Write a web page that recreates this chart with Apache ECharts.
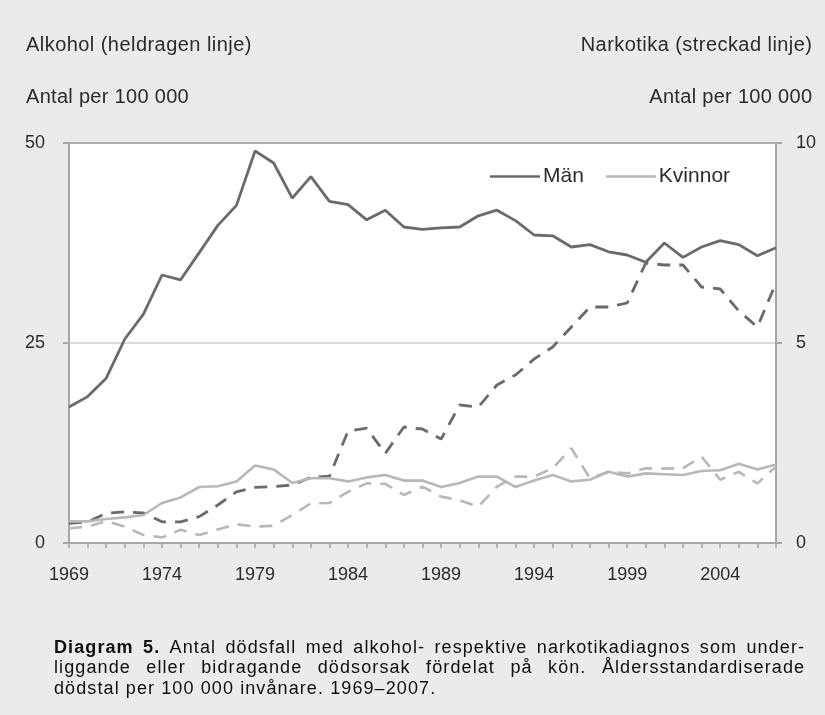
<!DOCTYPE html>
<html><head><meta charset="utf-8">
<script src="https://cdn.jsdelivr.net/npm/echarts@6/dist/echarts.min.js"></script>
<style>html,body{margin:0;padding:0;background:#ebebeb}#c{width:825px;height:715px}</style>
</head><body><div id="c"></div>
<script>
const years = ['1969','1970','1971','1972','1973','1974','1975','1976','1977','1978',
  '1979','1980','1981','1982','1983','1984','1985','1986','1987','1988',
  '1989','1990','1991','1992','1993','1994','1995','1996','1997','1998',
  '1999','2000','2001','2002','2003','2004','2005','2006','2007'];
const tickLabels = ['1969','1974','1979','1984','1989','1994','1999','2004'];
// Alkohol (left axis), per 100 000
const menAlcohol = [17.0,18.3,20.6,25.5,28.6,33.5,32.9,36.3,39.7,42.2,
  49.0,47.5,43.1,45.8,42.7,42.3,40.4,41.6,39.5,39.2,
  39.4,39.5,40.9,41.6,40.3,38.5,38.4,37.0,37.3,36.4,
  36.0,35.1,37.5,35.7,37.0,37.8,37.3,35.9,36.9];
const womenAlcohol = [2.7,2.7,3.0,3.2,3.5,5.0,5.7,7.0,7.1,7.7,
  9.7,9.2,7.5,8.1,8.1,7.7,8.2,8.5,7.8,7.8,
  7.0,7.5,8.3,8.3,7.0,7.8,8.5,7.7,7.9,8.9,
  8.3,8.7,8.6,8.5,9.0,9.1,9.9,9.2,9.8];
// Narkotika (right axis), per 100 000
const menNarcotics = [0.49,0.53,0.74,0.78,0.75,0.53,0.53,0.66,0.95,1.28,
  1.39,1.41,1.45,1.64,1.67,2.8,2.87,2.24,2.9,2.85,
  2.6,3.45,3.4,3.95,4.2,4.6,4.9,5.4,5.9,5.9,
  6.0,7.0,6.95,6.95,6.4,6.35,5.8,5.4,6.5];
const womenNarcotics = [0.37,0.41,0.55,0.41,0.2,0.14,0.33,0.2,0.34,0.47,
  0.41,0.43,0.7,0.99,1.0,1.28,1.49,1.48,1.2,1.41,
  1.16,1.07,0.91,1.41,1.66,1.66,1.87,2.37,1.62,1.78,
  1.74,1.87,1.86,1.87,2.16,1.58,1.78,1.49,1.91];
const leftTicks = [0, 25, 50];
const rightTicks = [0, 5, 10];

const FONT = '"Liberation Sans", Arial, sans-serif';
const TXT = '#2b2b2b';
const MEN = '#6a6a6a';
const WOMEN = '#b8b8b8';
const AXIS = '#a6a6a6';

const chart = echarts.init(document.getElementById('c'), null, {renderer: 'canvas'});

// letter-spaced text, placed character by character
const cv = document.createElement('canvas').getContext('2d');
function wordWidth(t, font, ls) {
  cv.font = font;
  return cv.measureText(t).width + ls * (t.length - 1);
}
function placeWord(els, t, x, y, font, ls, fill) {
  cv.font = font;
  for (let i = 0; i < t.length; i++) {
    const px = x + cv.measureText(t.slice(0, i)).width + ls * i;
    els.push({type: 'text', x: px, y: y, silent: true,
      style: {text: t[i], fill: fill, font: font, textVerticalAlign: 'middle'}});
  }
}
function spacedText(t, x, y, font, ls, fill, alignRight) {
  const els = [];
  const w = wordWidth(t, font, ls);
  placeWord(els, t, alignRight ? x - w : x, y, font, ls, fill);
  return els;
}
function captionLine(words, x0, x1, y, justify, size, ls) {
  const els = [];
  const fonts = words.map(w => (w.b ? 'bold ' : '') + size + 'px ' + FONT);
  const widths = words.map((w, i) => wordWidth(w.t, fonts[i], ls));
  const total = widths.reduce((a, b) => a + b, 0);
  cv.font = size + 'px ' + FONT;
  const gap = justify ? (x1 - x0 - total) / (words.length - 1) : cv.measureText(' ').width + ls * 2;
  let x = x0;
  words.forEach((w, i) => { placeWord(els, w.t, x, y, fonts[i], ls, '#0f0f0f'); x += widths[i] + gap; });
  return els;
}
function W(s, b) { return s.split(' ').map(t => ({t: t, b: !!b})); }
const CAP = 18, LS = 1.1;
const caption = [].concat(
  captionLine(W('Diagram 5.', true).concat(W('Antal dödsfall med alkohol- respektive narkotikadiagnos som under-')), 54, 804, 648, true, CAP, LS),
  captionLine(W('liggande eller bidragande dödsorsak fördelat på kön. Åldersstandardiserade'), 54, 804, 668, true, CAP, LS),
  captionLine(W('dödstal per 100 000 invånare. 1969–2007.'), 54, 804, 689, false, CAP, LS)
);
const TF = '20px ' + FONT;
const titles = [].concat(
  spacedText('Alkohol (heldragen linje)', 26, 45, TF, 0.45, TXT, false),
  spacedText('Antal per 100 000', 26, 97, TF, 0.3, TXT, false),
  spacedText('Narkotika (streckad linje)', 812, 45, TF, 0.45, TXT, true),
  spacedText('Antal per 100 000', 812, 97, TF, 0.3, TXT, true)
);

const option = {
  backgroundColor: '#ebebeb',
  animation: false,
  textStyle: {fontFamily: FONT},
  grid: {left: 69, right: 49, top: 143, bottom: 172, show: true, backgroundColor: '#ffffff', borderWidth: 0},
  legend: {
    data: ['Män', 'Kvinnor'],
    left: 485, top: 161, itemWidth: 50, itemHeight: 10, itemGap: 22,
    icon: 'path://M0,4 L50,4 L50,6.6 L0,6.6 Z',
    textStyle: {fontSize: 21, color: TXT, fontFamily: FONT, padding: [0, 0, 0, -2]}
  },
  xAxis: {
    type: 'category', data: years, boundaryGap: false,
    axisLine: {lineStyle: {color: AXIS, width: 2}},
    axisTick: {show: true, interval: 0, length: 5, lineStyle: {color: AXIS, width: 1.5}},
    axisLabel: {interval: 0, margin: 23, fontSize: 18, color: TXT, fontFamily: FONT,
      formatter: v => tickLabels.includes(v) ? v : ''},
    splitLine: {show: false}
  },
  yAxis: [
    {type: 'value', min: 0, max: 50, interval: 25, position: 'left',
      axisLine: {show: true, lineStyle: {color: AXIS, width: 2}},
      axisTick: {show: true, length: 6, lineStyle: {color: AXIS, width: 2}},
      axisLabel: {margin: 24, fontSize: 18, color: TXT, fontFamily: FONT,
        formatter: v => leftTicks.includes(v) ? String(v) : ''},
      splitLine: {show: true, lineStyle: {color: ['#dcdcdc', '#dcdcdc', '#b0b0b0'], width: 2}}},
    {type: 'value', min: 0, max: 10, interval: 5, position: 'right',
      axisLine: {show: true, lineStyle: {color: AXIS, width: 2}},
      axisTick: {show: true, length: 6, lineStyle: {color: AXIS, width: 2}},
      axisLabel: {margin: 20, fontSize: 18, color: TXT, fontFamily: FONT,
        formatter: v => rightTicks.includes(v) ? String(v) : ''},
      splitLine: {show: false}}
  ],
  series: [
    {name: 'Kvinnor narkotika', type: 'line', yAxisIndex: 1, data: womenNarcotics, symbol: 'none',
      lineStyle: {color: WOMEN, width: 2.6, type: [13, 9]}, itemStyle: {color: WOMEN}},
    {name: 'Män narkotika', type: 'line', yAxisIndex: 1, data: menNarcotics, symbol: 'none',
      lineStyle: {color: MEN, width: 2.8, type: [13, 9]}, itemStyle: {color: MEN}},
    {name: 'Kvinnor', type: 'line', yAxisIndex: 0, data: womenAlcohol, symbol: 'none',
      lineStyle: {color: WOMEN, width: 2.6}, itemStyle: {color: WOMEN}},
    {name: 'Män', type: 'line', yAxisIndex: 0, data: menAlcohol, symbol: 'none',
      lineStyle: {color: MEN, width: 2.8}, itemStyle: {color: MEN}}
  ],
  graphic: titles.concat(caption)
};
chart.setOption(option);
</script>
</body></html>
